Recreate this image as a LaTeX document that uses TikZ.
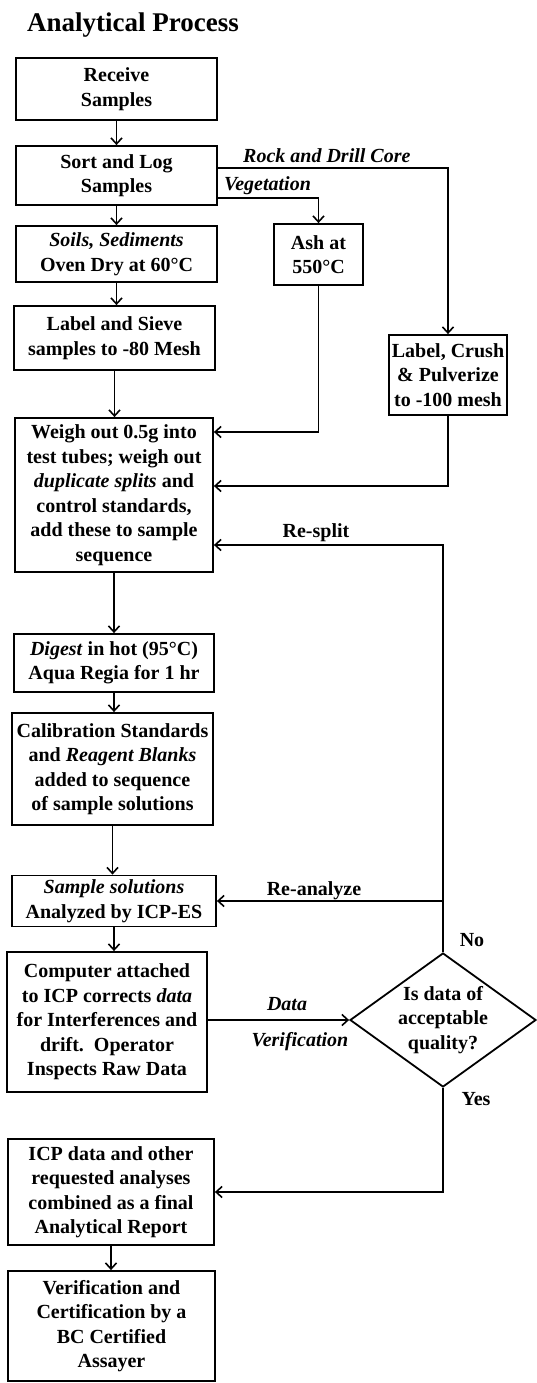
\documentclass[tikz,border=0pt]{standalone}
\usepackage{fontspec}
\setmainfont{Liberation Serif}
\usetikzlibrary{arrows.meta,shapes.geometric}
\newcommand{\bxfont}{\fontsize{20}{24.5}\selectfont\bfseries}
\newcommand{\ttlfont}{\fontsize{27}{30}\selectfont\bfseries}
\tikzset{
  box/.style={draw, line width=1.8pt, align=center, inner sep=0pt, font=\bxfont},
  lbl/.style={inner sep=0pt, font=\bxfont},
  arr/.style={line width=1.6pt, -{Straight Barb[length=6pt,width=11pt,line width=1.6pt]}},
  ln/.style={line width=1.6pt}
}
\begin{document}
\begin{tikzpicture}[x=1pt,y=-1pt]
\path[use as bounding box, fill=white] (0,0) rectangle (536,1383);

% title
\node[lbl, font=\ttlfont, anchor=base west] (title) at (27,32) {Analytical Process};

% boxes
\node[box, minimum width=201, minimum height=62] (recv) at (116.5,89) {Receive\\Samples};
\node[box, minimum width=201, minimum height=59] (sort) at (116.5,175.5) {Sort and Log\\Samples};
\node[box, minimum width=201, minimum height=56] (soil) at (116.5,254) {\textit{Soils, Sediments}\\Oven Dry at 60°C};
\node[box, minimum width=89, minimum height=61] (ash) at (318.5,254.5) {Ash at\\550°C};
\node[box, minimum width=201, minimum height=64] (sieve) at (114.5,338) {Label and Sieve\\samples to -80 Mesh};
\node[box, minimum width=118, minimum height=80] (crush) at (448,375) {Label, Crush\\\& Pulverize\\to -100 mesh};
\node[box, minimum width=198, minimum height=154] (weigh) at (114,495) {Weigh out 0.5g into\\test tubes; weigh out\\\textit{duplicate splits} and\\control standards,\\add these to sample\\sequence};
\node[box, minimum width=200, minimum height=58] (digest) at (114,663) {\textit{Digest} in hot (95°C)\\Aqua Regia for 1 hr};
\node[box, minimum width=201, minimum height=112] (calib) at (112.5,769) {Calibration Standards\\and \textit{Reagent Blanks}\\added to sequence\\of sample solutions};
\node[box, minimum width=204, minimum height=51] (sample) at (114,901) {\textit{Sample solutions}\\Analyzed by ICP-ES};
\node[box, minimum width=200, minimum height=140] (comp) at (107,1022) {Computer attached\\to ICP corrects \textit{data}\\for Interferences and\\drift.\ \ Operator\\Inspects Raw Data};
\node[box, shape=diamond, aspect=1.39, minimum width=186, minimum height=134] (dia) at (443,1020) {Is data of\\acceptable\\quality?};
\node[box, minimum width=206, minimum height=106] (icp) at (111,1192) {ICP data and other\\requested analyses\\combined as a final\\Analytical Report};
\node[box, minimum width=207, minimum height=110] (verif) at (111.5,1326) {Verification and\\Certification by a\\BC Certified\\Assayer};

% labels
\node[lbl, anchor=base west] (rocklbl) at (243,163) {\textit{Rock and Drill Core}};
\node[lbl, anchor=base west] (veglbl) at (224,190) {\textit{Vegetation}};
\node[lbl] (resplit) at (316,533) {Re-split};
\node[lbl] (reanal) at (314,891) {Re-analyze};
\node[lbl] (datal) at (287,1004) {\textit{Data}};
\node[lbl] (verl) at (300,1042) {\textit{Verification}};
\node[lbl] (nol) at (472,940) {No};
\node[lbl] (yesl) at (476,1099) {Yes};

% helper coordinates
\coordinate (vegturn) at (318.5,198);
\coordinate (rockturn) at (448,168);
\coordinate (w1) at (0,432);
\coordinate (w2) at (0,486);
\coordinate (w3) at (0,545);

% main column
\draw[arr] (recv.south) -- (sort.north);
\draw[arr] (sort.south) -- (sort.south |- soil.north);
\draw[arr] (soil.south) -- (soil.south |- sieve.north);
\draw[arr] (sieve.south) -- (sieve.south |- weigh.north);
\draw[arr] (weigh.south) -- (weigh.south |- digest.north);
\draw[arr] (digest.south) -- (digest.south |- calib.north);
\draw[arr] (calib.south) -- (calib.south |- sample.north);
\draw[arr] (sample.south) -- (sample.south |- comp.north);
\draw[arr] (icp.south) -- (icp.south |- verif.north);

% branches
\draw[arr] (sort.east |- vegturn) -- (vegturn) -- (ash.north);
\draw[arr] (sort.east |- rockturn) -- (rockturn) -- (crush.north);
\draw[arr] (ash.south) |- (weigh.east |- w1);
\draw[arr] (crush.south) |- (weigh.east |- w2);

% loops from decision
\draw[arr] (dia.north) |- (weigh.east |- w3);
\draw[arr] (dia.north |- sample.east) -- (sample.east);
\draw[arr] (comp.east |- dia.west) -- (dia.west);
\draw[arr] (dia.south) |- (icp.east);
\end{tikzpicture}
\end{document}
